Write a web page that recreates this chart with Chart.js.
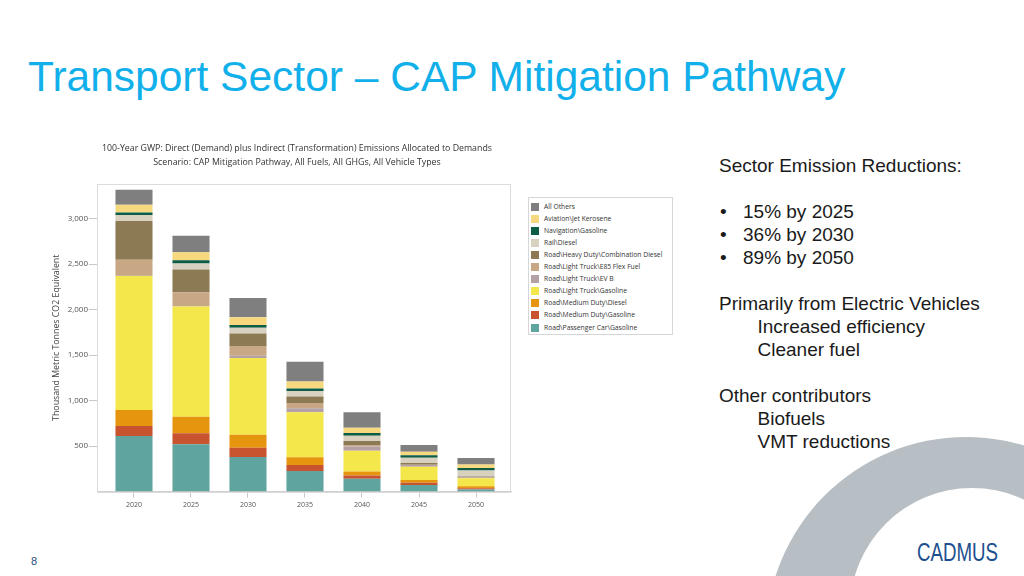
<!DOCTYPE html>
<html>
<head>
<meta charset="utf-8">
<script src="https://cdn.jsdelivr.net/npm/chart.js@4.4.1/dist/chart.umd.min.js"></script>
<style>
html,body{margin:0;padding:0;width:1024px;height:576px;overflow:hidden;background:#fff;}
body{position:relative;font-family:'Liberation Sans',Arial,sans-serif;}
#arc{position:absolute;left:0;top:0;}
#slideTitle{position:absolute;left:28px;top:55.7px;font-size:42.5px;line-height:1;color:#12b0ea;white-space:nowrap;}
#notes{position:absolute;left:719px;top:154.2px;font-size:19px;line-height:23px;color:#1a1a1a;white-space:nowrap;}
#notes div{height:23px;position:relative;}
#notes .b span.dot{position:absolute;left:1px;}
#notes .b span.t{position:absolute;left:24px;}
#notes .ind{padding-left:38.5px;}
#pageNum{position:absolute;left:31px;top:555.7px;font-size:11px;line-height:1;color:#1f4e79;}
#logo{position:absolute;left:917px;top:539.8px;font-size:25px;line-height:1;color:#1d4f8f;transform:scaleX(0.748);transform-origin:0 0;white-space:nowrap;}
#c{position:absolute;left:40px;top:135px;}
#legend{position:absolute;left:528px;top:197px;width:145px;height:138px;box-sizing:border-box;border:1px solid #d6d6d6;background:#fff;font-family:'Open Sans',sans-serif;font-size:6.75px;color:#333;}
#legend .row{position:absolute;left:2px;height:10px;line-height:10px;white-space:nowrap;}
#legend .sw{position:absolute;left:0;top:1px;width:8px;height:8px;}
#legend .tx{position:absolute;left:13px;top:0;}
</style>
</head>
<body>
<svg id="arc" width="1024" height="576" viewBox="0 0 1024 576">
  <path fill="#b8bfc4" fill-rule="evenodd" d="M766,637 a200,200 0 1,0 400,0 a200,200 0 1,0 -400,0 Z M850,610 a122,122 0 1,0 244,0 a122,122 0 1,0 -244,0 Z"/>
</svg>
<div id="slideTitle">Transport Sector – CAP Mitigation Pathway</div>
<div id="notes">
  <div>Sector Emission Reductions:</div>
  <div></div>
  <div class="b"><span class="dot">•</span><span class="t">15% by 2025</span></div>
  <div class="b"><span class="dot">•</span><span class="t">36% by 2030</span></div>
  <div class="b"><span class="dot">•</span><span class="t">89% by 2050</span></div>
  <div></div>
  <div>Primarily from Electric Vehicles</div>
  <div class="ind">Increased efficiency</div>
  <div class="ind">Cleaner fuel</div>
  <div></div>
  <div>Other contributors</div>
  <div class="ind">Biofuels</div>
  <div class="ind">VMT reductions</div>
</div>
<canvas id="c" width="514" height="385"></canvas>
<div id="legend"></div>
<div id="pageNum">8</div>
<div id="logo">CADMUS</div>
<script>
// ---- data ----
const categories = ['2020','2025','2030','2035','2040','2045','2050'];
const yTickValues = [500,1000,1500,2000,2500,3000];
const chartTitleLines = [
  '100-Year GWP: Direct (Demand) plus Indirect (Transformation) Emissions Allocated to Demands',
  'Scenario: CAP Mitigation Pathway, All Fuels, All GHGs, All Vehicle Types'
];
const yAxisTitle = 'Thousand Metric Tonnes CO2 Equivalent';

// series, bottom of stack to top
const passengerCarGasoline = [610,519,378,226,140,72,22];
const mediumDutyGasoline   = [110,121,103,66,37,25,15];
const mediumDutyDiesel     = [176,183,143,85,44,30,22];
const lightTruckGasoline   = [1473,1210,843,495,227,146,88];
const lightTruckEVB        = [3,3,25,44,47,17,5];
const lightTruckE85        = [176,154,107,58,17,5,3];
const heavyDutyCombDiesel  = [425,249,139,69,44,17,11];
const railDiesel           = [66,66,63,63,58,58,64];
const navigationGasoline   = [29,36,30,25,30,29,29];
const aviationJetKerosene  = [85,88,84,77,58,37,37];
const allOthers            = [165,183,213,217,169,75,72];

const seriesNames = [
  'Road\\Passenger Car\\Gasoline','Road\\Medium Duty\\Gasoline','Road\\Medium Duty\\Diesel',
  'Road\\Light Truck\\Gasoline','Road\\Light Truck\\EV B','Road\\Light Truck\\E85 Flex Fuel',
  'Road\\Heavy Duty\\Combination Diesel','Rail\\Diesel','Navigation\\Gasoline',
  'Aviation\\Jet Kerosene','All Others'
];
const seriesValues = [passengerCarGasoline,mediumDutyGasoline,mediumDutyDiesel,lightTruckGasoline,
  lightTruckEVB,lightTruckE85,heavyDutyCombDiesel,railDiesel,navigationGasoline,aviationJetKerosene,allOthers];
const seriesColors = ['#5fa49e','#c8532f','#e6950f','#f3e74b','#b5a0a6','#c8a784','#8c7a55',
  '#d9d1bf','#0d5c45','#f6d97e','#7f7f7f'];

// ---- chart ----
const datasets = seriesValues.map((vals,k)=>({
  label: seriesNames[k],
  data: vals.map((v,i)=>({x:i,y:v})),
  backgroundColor: seriesColors[k],
  borderWidth: 0,
  barPercentage: 0.65,
  categoryPercentage: 1
}));

const plotBox = {
  id:'plotBox',
  beforeDatasetsDraw(chart){
    const {ctx, chartArea:a} = chart;
    ctx.save();
    ctx.strokeStyle = '#dcdcdc';
    ctx.lineWidth = 1;
    ctx.strokeRect(Math.round(a.left)+0.5, Math.round(a.top)+0.5, Math.round(a.right-a.left)-1, Math.round(a.bottom-a.top));
    ctx.restore();
  }
};

Chart.defaults.font.family = "'Open Sans', sans-serif";
const chart = new Chart(document.getElementById('c'), {
  type:'bar',
  data:{datasets},
  plugins:[plotBox],
  options:{
    responsive:false, animation:false, devicePixelRatio:1,
    layout:{padding:{left:0,right:0,top:0,bottom:0}},
    plugins:{
      legend:{display:false},
      tooltip:{enabled:false},
      title:{display:true,text:chartTitleLines,color:'#333',
        font:{size:8.8,lineHeight:'14px',weight:'normal'},
        padding:{top:6.3,bottom:14.7}}
    },
    scales:{
      x:{type:'linear',stacked:true,bounds:'data',offset:false,min:-0.649,max:6.614,
        afterBuildTicks:s=>{s.ticks = categories.map((c,i)=>({value:i}));},
        ticks:{callback:v=>categories[v],font:{size:7},color:'#555',padding:3.5,autoSkip:false,maxRotation:0},
        grid:{drawOnChartArea:false,offset:false,tickLength:6,color:'#c8c8c8'},
        border:{color:'#cfcfcf'},
        afterFit:s=>{s.height=28.5;}
      },
      y:{stacked:true,min:0,max:3380,
        afterBuildTicks:s=>{s.ticks = yTickValues.map(v=>({value:v}));},
        ticks:{callback:v=>v.toLocaleString('en-US'),font:{size:8},color:'#555',padding:1},
        grid:{drawOnChartArea:false,tickLength:8,color:'#c8c8c8'},
        border:{color:'#cfcfcf'},
        title:{display:true,text:yAxisTitle,color:'#444',font:{size:8.8},padding:{top:11,bottom:0}},
        afterFit:s=>{s.width=57;}
      },
      yRightSpacer:{type:'linear',position:'right',display:true,
        grid:{display:false},ticks:{display:false},border:{display:false},
        afterFit:s=>{s.width=43;}
      }
    }
  }
});

// ---- legend (top of stack first) ----
const legend = document.getElementById('legend');
const items = chart.data.datasets.map(d=>({label:d.label,color:d.backgroundColor})).reverse();
items.forEach((it,r)=>{
  const row = document.createElement('div');
  row.className='row';
  row.style.top = (3.5 + r*12.1) + 'px';
  const sw = document.createElement('span'); sw.className='sw'; sw.style.background = it.color;
  const tx = document.createElement('span'); tx.className='tx'; tx.textContent = it.label;
  row.appendChild(sw); row.appendChild(tx);
  legend.appendChild(row);
});
</script>
</body>
</html>
